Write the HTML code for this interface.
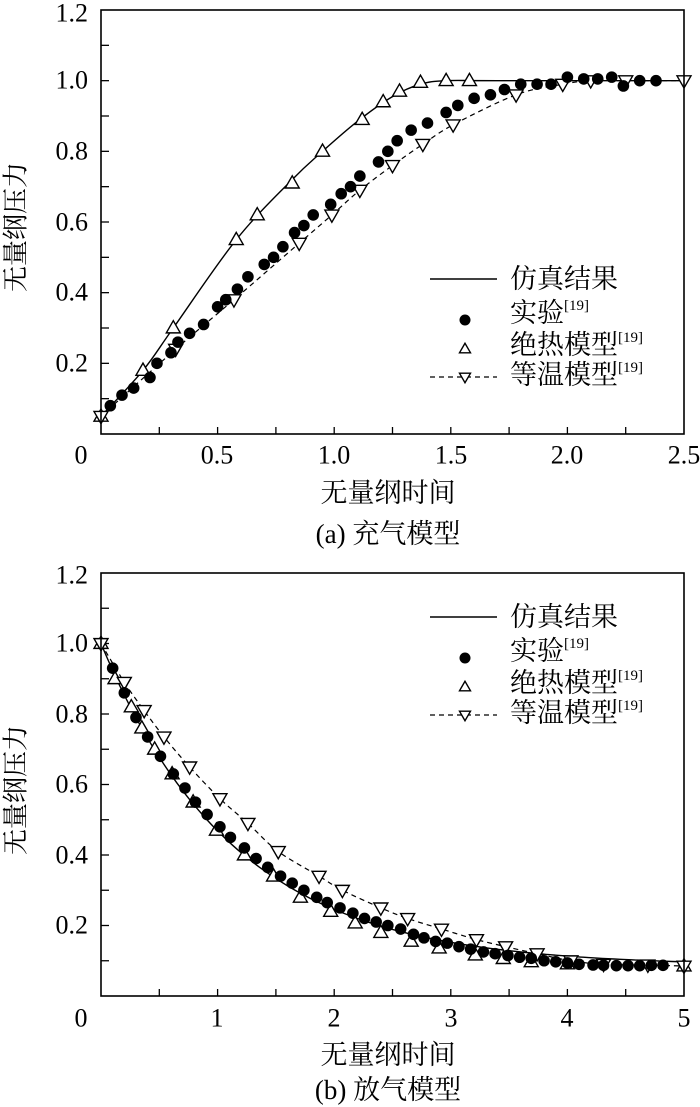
<!DOCTYPE html>
<html><head><meta charset="utf-8">
<style>
html,body{margin:0;padding:0;background:#fff;}
svg{display:block;}
text{font-family:"Liberation Serif","Noto Serif CJK SC",serif;fill:#000;}
.cjk{font-family:"Liberation Serif","Noto Serif CJK SC",serif;}
</style></head>
<body>
<svg id="s" width="700" height="1107" viewBox="0 0 700 1107" xmlns="http://www.w3.org/2000/svg">
<g id="c1"></g><g id="c2"></g>
<text x="88" y="13" text-anchor="end" dominant-baseline="central" font-size="26">1.2</text>
<text x="88" y="80" text-anchor="end" dominant-baseline="central" font-size="26">1.0</text>
<text x="88" y="151" text-anchor="end" dominant-baseline="central" font-size="26">0.8</text>
<text x="88" y="222" text-anchor="end" dominant-baseline="central" font-size="26">0.6</text>
<text x="88" y="292" text-anchor="end" dominant-baseline="central" font-size="26">0.4</text>
<text x="88" y="363" text-anchor="end" dominant-baseline="central" font-size="26">0.2</text>
<text x="81" y="455" text-anchor="middle" dominant-baseline="central" font-size="26">0</text>
<text x="217" y="455" text-anchor="middle" dominant-baseline="central" font-size="26">0.5</text>
<text x="334" y="455" text-anchor="middle" dominant-baseline="central" font-size="26">1.0</text>
<text x="451" y="455" text-anchor="middle" dominant-baseline="central" font-size="26">1.5</text>
<text x="567" y="455" text-anchor="middle" dominant-baseline="central" font-size="26">2.0</text>
<text x="684" y="455" text-anchor="middle" dominant-baseline="central" font-size="26">2.5</text>
<text class="cjk" x="388" y="493" text-anchor="middle" dominant-baseline="central" font-size="27">无量纲时间</text>
<text class="cjk" x="388" y="534" text-anchor="middle" dominant-baseline="central" font-size="27">(a) 充气模型</text>
<text class="cjk" transform="translate(16,227) rotate(-90)" text-anchor="middle" dominant-baseline="central" font-size="26">无量纲压力</text>
<text x="88" y="575" text-anchor="end" dominant-baseline="central" font-size="26">1.2</text>
<text x="88" y="643" text-anchor="end" dominant-baseline="central" font-size="26">1.0</text>
<text x="88" y="714" text-anchor="end" dominant-baseline="central" font-size="26">0.8</text>
<text x="88" y="784" text-anchor="end" dominant-baseline="central" font-size="26">0.6</text>
<text x="88" y="855" text-anchor="end" dominant-baseline="central" font-size="26">0.4</text>
<text x="88" y="925" text-anchor="end" dominant-baseline="central" font-size="26">0.2</text>
<text x="81" y="1018" text-anchor="middle" dominant-baseline="central" font-size="26">0</text>
<text x="217" y="1018" text-anchor="middle" dominant-baseline="central" font-size="26">1</text>
<text x="334" y="1018" text-anchor="middle" dominant-baseline="central" font-size="26">2</text>
<text x="451" y="1018" text-anchor="middle" dominant-baseline="central" font-size="26">3</text>
<text x="567" y="1018" text-anchor="middle" dominant-baseline="central" font-size="26">4</text>
<text x="684" y="1018" text-anchor="middle" dominant-baseline="central" font-size="26">5</text>
<text class="cjk" x="388" y="1055" text-anchor="middle" dominant-baseline="central" font-size="27">无量纲时间</text>
<text class="cjk" x="388" y="1090" text-anchor="middle" dominant-baseline="central" font-size="27">(b) 放气模型</text>
<text class="cjk" transform="translate(16,790) rotate(-90)" text-anchor="middle" dominant-baseline="central" font-size="26">无量纲压力</text>
</svg>
<script>
var NS="http://www.w3.org/2000/svg";
function el(p,t,a){var e=document.createElementNS(NS,t);for(var k in a)e.setAttribute(k,a[k]);p.appendChild(e);return e;}
function tri(g,x,y,s,up){var h=s*0.87;var pts=up?[[x,y-h*0.6],[x-s/2,y+h*0.4],[x+s/2,y+h*0.4]]:[[x,y+h*0.6],[x-s/2,y-h*0.4],[x+s/2,y-h*0.4]];
 el(g,"polygon",{points:pts.map(function(p){return p.join(",")}).join(" "),fill:"#fff",stroke:"#000","stroke-width":1.4});}
function smooth(pts){var d="M"+pts[0][0].toFixed(1)+","+pts[0][1].toFixed(1);
 for(var i=0;i<pts.length-1;i++){var p0=pts[i-1]||pts[i],p1=pts[i],p2=pts[i+1],p3=pts[i+2]||p2;
  var c1=[p1[0]+(p2[0]-p0[0])/6,p1[1]+(p2[1]-p0[1])/6],c2=[p2[0]-(p3[0]-p1[0])/6,p2[1]-(p3[1]-p1[1])/6];
  d+=" C"+c1.map(function(v){return v.toFixed(1)}).join(",")+" "+c2.map(function(v){return v.toFixed(1)}).join(",")+" "+p2[0].toFixed(1)+","+p2[1].toFixed(1);}
 return d;}
function chart(gid,top,bot,xmax,xtick,sim,dots,adi,iso,ly){
 var g=document.getElementById(gid);var L=101,R=684;
 var X=function(v){return L+(R-L)*v/xmax},Y=function(v){return bot-(bot-top)*v/1.2};
 for(var i=1;i<12;i++){var y=Y(i*0.1);el(g,"line",{x1:L,x2:L+8,y1:y,y2:y,stroke:"#000","stroke-width":1.3});}
 for(var v=xtick;v<xmax-1e-6;v+=xtick){var x=X(v);el(g,"line",{x1:x,x2:x,y1:bot,y2:bot-7,stroke:"#000","stroke-width":1.3});}
 var M=function(a){return a.map(function(p){return [X(p[0]),Y(p[1])]})};
 el(g,"path",{d:smooth(M(iso)),fill:"none",stroke:"#000","stroke-width":1.2,"stroke-dasharray":"5,4"});
 el(g,"path",{d:smooth(M(sim)),fill:"none",stroke:"#000","stroke-width":1.4});
 adi.forEach(function(p){tri(g,X(p[0]),Y(p[1]),14,true)});
 iso.forEach(function(p){tri(g,X(p[0]),Y(p[1]),14,false)});
 dots.forEach(function(p){el(g,"circle",{cx:X(p[0]),cy:Y(p[1]),r:5.8,fill:"#000"})});
 el(g,"rect",{x:L,y:top,width:R-L,height:bot-top,fill:"none",stroke:"#000","stroke-width":1.6});
 var d=ly-279;
 el(g,"line",{x1:430,x2:497,y1:279+d,y2:279+d,stroke:"#000","stroke-width":1.4});
 el(g,"circle",{cx:465,cy:320+d,r:5.5,fill:"#000"});
 tri(g,465,349+d,11,true);
 el(g,"line",{x1:430,x2:497,y1:377+d,y2:377+d,stroke:"#000","stroke-width":1.2,"stroke-dasharray":"5,4"});
 tri(g,465,377+d,11,false);
 var rows=[["仿真结果",279],["实验",313],["绝热模型",345],["等温模型",375]];
 rows.forEach(function(r,i){var t=el(g,"text",{x:510,y:r[1]+d,"dominant-baseline":"central","font-size":27,"class":"cjk"});t.textContent=r[0];
  if(i>0){var s=el(t,"tspan",{"font-size":15,dy:-7,"font-family":"Liberation Serif"});s.textContent="[19]";}});
}
var adi1=[[0,0.05],[0.18,0.18],[0.31,0.30],[0.58,0.55],[0.67,0.62],[0.82,0.71],[0.95,0.80],[1.12,0.89],[1.21,0.94],[1.28,0.97],[1.37,0.995],[1.48,1.0],[1.58,1.0]];
var sim1=[[0,0.05],[0.18,0.18],[0.31,0.30],[0.58,0.55],[0.82,0.72],[0.95,0.80],[1.1,0.885],[1.25,0.955],[1.37,0.99],[1.48,1.0],[1.7,1.0],[2.5,1.0]];
var iso1=[[0,0.05],[0.32,0.24],[0.57,0.38],[0.85,0.54],[0.99,0.62],[1.11,0.69],[1.25,0.76],[1.38,0.82],[1.51,0.875],[1.78,0.96],[1.98,0.99],[2.1,1.0],[2.25,1.0],[2.5,1.0]];
var dots1=[[0.04,0.08],[0.09,0.11],[0.14,0.13],[0.21,0.16],[0.24,0.2],[0.3,0.23],[0.33,0.26],[0.38,0.285],[0.44,0.31],[0.5,0.36],[0.535,0.38],[0.585,0.41],[0.63,0.445],[0.7,0.48],[0.74,0.5],[0.78,0.53],[0.83,0.57],[0.87,0.59],[0.91,0.62],[0.985,0.65],[1.03,0.68],[1.07,0.7],[1.11,0.73],[1.19,0.77],[1.23,0.8],[1.27,0.83],[1.33,0.86],[1.4,0.88],[1.48,0.91],[1.53,0.93],[1.6,0.95],[1.67,0.96],[1.73,0.975],[1.8,0.99],[1.87,0.99],[1.93,0.99],[2.0,1.01],[2.07,1.005],[2.13,1.005],[2.19,1.01],[2.24,0.985],[2.31,1.0],[2.38,1.0]];
chart("c1",10,434,2.5,0.25,sim1,dots1,adi1,iso1,279);
var adi2=[[0,1.0],[0.12,0.9],[0.26,0.82],[0.35,0.76],[0.46,0.7],[0.61,0.63],[0.79,0.55],[0.99,0.47],[1.23,0.4],[1.48,0.34],[1.71,0.28],[1.97,0.24],[2.18,0.207],[2.4,0.18],[2.66,0.155],[2.9,0.136],[3.21,0.116],[3.45,0.106],[3.69,0.097],[4.0,0.091],[5,0.085]];
var sim2=[];for(var x=0;x<=5.001;x+=0.1){sim2.push([x,0.085+0.915*Math.exp(-0.87*x)]);}
var iso2=[[0,1.0],[0.2,0.89],[0.37,0.81],[0.54,0.735],[0.76,0.65],[1.02,0.56],[1.26,0.49],[1.52,0.41],[1.87,0.34],[2.07,0.3],[2.4,0.25],[2.63,0.22],[2.92,0.19],[3.22,0.16],[3.47,0.14],[3.74,0.12],[4.03,0.1],[4.31,0.09],[4.69,0.088],[5,0.085]];
var dots2=[[0.1,0.93],[0.2,0.86],[0.3,0.79],[0.4,0.735],[0.51,0.68],[0.62,0.63],[0.72,0.59],[0.81,0.55],[0.91,0.515],[1.02,0.48],[1.11,0.45],[1.23,0.42],[1.33,0.39],[1.43,0.365],[1.54,0.34],[1.64,0.32],[1.74,0.3],[1.85,0.28],[1.94,0.265],[2.05,0.25],[2.16,0.235],[2.26,0.22],[2.36,0.21],[2.46,0.2],[2.57,0.19],[2.68,0.175],[2.77,0.165],[2.87,0.155],[2.97,0.15],[3.07,0.14],[3.17,0.133],[3.28,0.125],[3.38,0.12],[3.49,0.115],[3.59,0.11],[3.69,0.107],[3.8,0.1],[3.9,0.097],[4.0,0.094],[4.1,0.09],[4.22,0.088],[4.31,0.087],[4.42,0.086],[4.52,0.086],[4.62,0.086],[4.72,0.087],[4.82,0.087]];
chart("c2",573,996,5,0.5,sim2,dots2,adi2,iso2,617);
</script>
</body></html>
